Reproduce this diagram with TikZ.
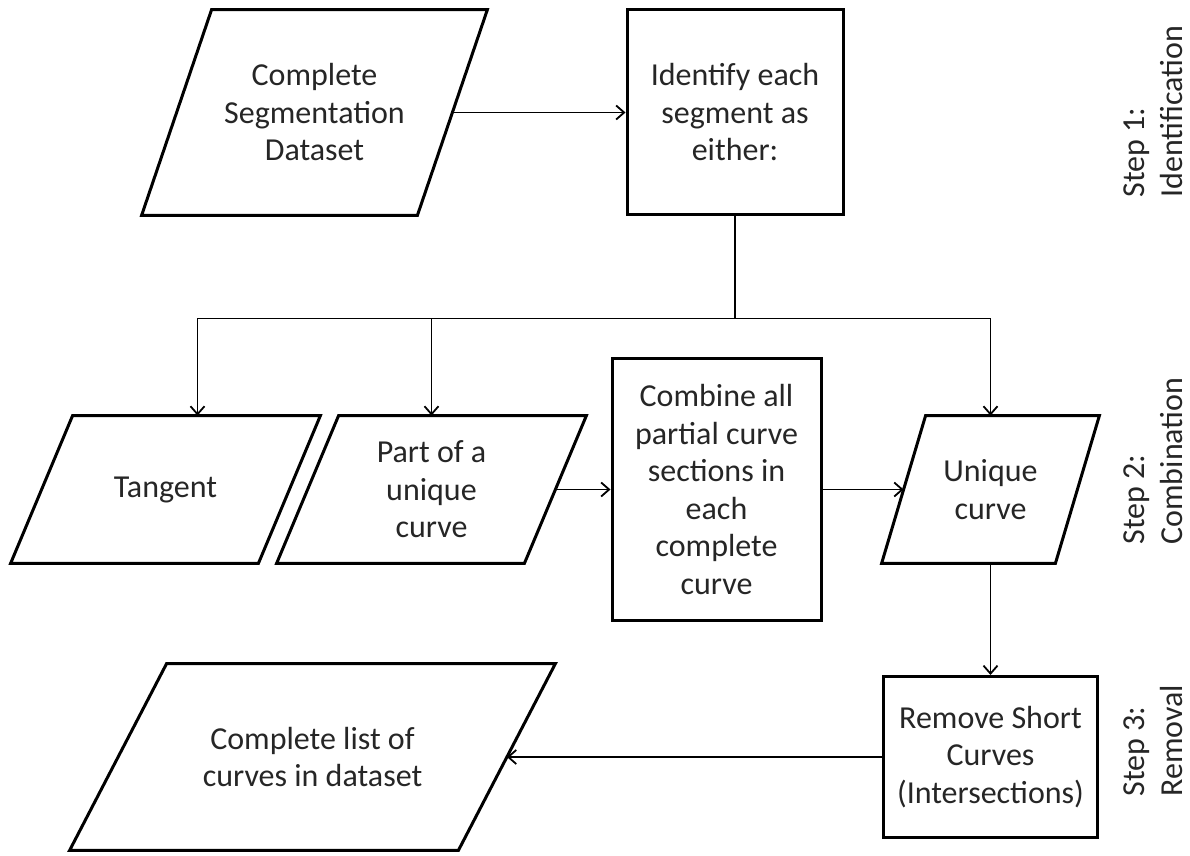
\documentclass[tikz,border=0pt]{standalone}
\usepackage{fontspec}
\setmainfont{Carlito}
\usetikzlibrary{arrows.meta,calc}
\newcommand\drawpara[2]{%
  \draw[pshape] ($(#1.north west)+(#2,0pt)$) -- (#1.north east) -- ($(#1.south east)+(-#2,0pt)$) -- (#1.south west) -- cycle;}
\begin{document}
\begin{tikzpicture}[x=0.5pt,y=-0.5pt,
  every node/.style={font=\fontsize{16}{18.75}\selectfont, text=black!85, inner sep=0pt, align=center},
  box/.style={draw, line width=1.5pt},
  pshape/.style={draw, line width=1.5pt, line join=miter},
  arr/.style={line width=0.9pt, -{Straight Barb[length=4pt,width=7pt]}},
  conn/.style={line width=0.9pt}
]
\useasboundingbox (0,0) rectangle (1190,856);

% nodes
\node[minimum width=172.5pt, minimum height=102.5pt] (p1) at (314.5,112.5) {Complete\\Segmentation\\Dataset};
\drawpara{p1}{35pt}
\node[box, minimum width=108pt, minimum height=102.5pt] (b1) at (735,112.5) {Identify each\\segment as\\either:};

\node[minimum width=154.5pt, minimum height=73.5pt] (tan) at (165.5,489.5) {Tangent};
\drawpara{tan}{31pt}
\node[minimum width=154.5pt, minimum height=73.5pt] (part) at (431.5,489.5) {Part of a\\unique\\curve};
\drawpara{part}{31pt}
\node[box, minimum width=104.5pt, minimum height=131pt] (b2) at (716.5,489.5) {Combine all\\partial curve\\sections in\\each\\complete\\curve};
\node[minimum width=108.5pt, minimum height=73.5pt] (uni) at (990.5,489.5) {Unique\\curve};
\drawpara{uni}{22pt}

\node[box, minimum width=107pt, minimum height=80.5pt] (b3) at (990.5,757) {Remove Short\\Curves\\(Intersections)};
\node[minimum width=242.5pt, minimum height=93pt] (p3) at (312.5,757) {Complete list of\\curves in dataset};
\drawpara{p3}{48.5pt}

% step labels
\node[rotate=90, anchor=west, align=left] (s1) at (1153,198) {Step 1:\\Identification};
\node[rotate=90, anchor=west, align=left] (s2) at (1153,545) {Step 2:\\Combination};
\node[rotate=90, anchor=west, align=left] (s3) at (1153,797) {Step 3:\\Removal};

% connectors
\coordinate (j) at ($(b1.south)+(0,102)$);
\draw[arr] ($(p1.east)+(-17.5pt,0pt)$) -- (b1.west);
\draw[conn] (b1.south) -- (j);
\draw[arr] (j) -| ([xshift=16pt]tan.north);
\draw[arr] (j) -| (part.north);
\draw[arr] (j) -| (uni.north);
\draw[arr] ($(part.east)+(-15.5pt,0pt)$) -- (b2.west);
\draw[arr] (b2.east) -- ($(uni.west)+(11pt,0pt)$);
\draw[arr] (uni.south) -- (b3.north);
\draw[arr] (b3.west) -- ($(p3.east)+(-24.25pt,0pt)$);
\end{tikzpicture}
\end{document}
